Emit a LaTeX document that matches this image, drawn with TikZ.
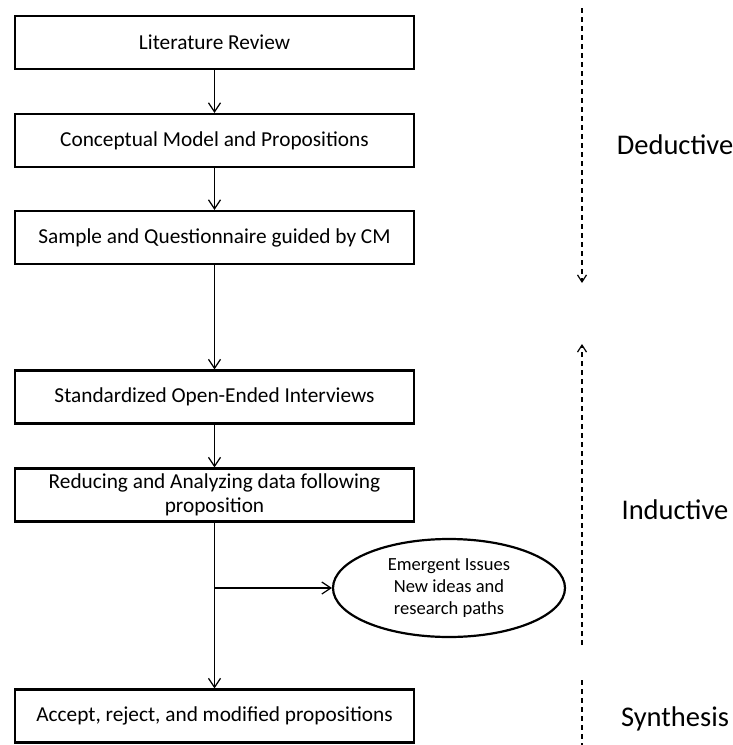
\documentclass[tikz,border=0pt]{standalone}
\usepackage{fontspec}
\setmainfont{Carlito}
\usetikzlibrary{arrows.meta,shapes.geometric}
\begin{document}
\begin{tikzpicture}[x=1pt,y=-1pt,
  box/.style={draw,line width=2.2pt,minimum width=399pt,minimum height=53pt,inner sep=0pt,align=center,font=\fontsize{21.3}{25}\selectfont},
  flow/.style={line width=1.2pt,-{Straight Barb[length=9pt,width=12pt,line width=1.2pt]}},
  side/.style={dash pattern=on 5pt off 4pt,line width=1.2pt},
  sidetip/.style={-{Straight Barb[length=7pt,width=9pt,line width=1.2pt]}},
  lbl/.style={font=\fontsize{28.5}{32}\selectfont}]
\useasboundingbox (0,0) rectangle (733,745);
\node[box] (b1) at (214.5,42.5) {Literature Review};
\node[box] (b2) at (214.5,140.5) {Conceptual Model and Propositions};
\node[box] (b3) at (214.5,237.5) {Sample and Questionnaire guided by CM};
\node[box] (b4) at (214.5,397) {Standardized Open-Ended Interviews};
\node[box] (b5) at (214.5,495) {Reducing and Analyzing data following\\[-1pt]proposition};
\node[box] (b6) at (214.5,716) {Accept, reject, and modified propositions};
\node[ellipse,draw,line width=2.2pt,minimum width=232pt,minimum height=98pt,inner sep=0pt,align=center,font=\fontsize{18.5}{22}\selectfont] (e) at (449,588) {Emergent Issues\\New ideas and\\research paths};
\draw[flow] (b1) -- (b2);
\draw[flow] (b2) -- (b3);
\draw[flow] (b3) -- (b4);
\draw[flow] (b4) -- (b5);
\draw[flow] (b5) -- (b6);
\coordinate (br) at (215,588);
\draw[flow] (br) -- (e);
% side markers
\coordinate (d1) at (582,8);
\coordinate (d2) at (582,283);
\coordinate (i1) at (582,645);
\coordinate (i2) at (582,344);
\coordinate (s1) at (582,680);
\coordinate (s2) at (582,745);
\draw[side,sidetip] (d1) -- (d2);
\draw[side,sidetip] (i1) -- (i2);
\draw[side] (s1) -- (s2);
\node[lbl] (ded) at (675,145) {Deductive};
\node[lbl] (ind) at (675,510) {Inductive};
\node[lbl] (syn) at (675,719) {Synthesis};
\end{tikzpicture}
\end{document}
